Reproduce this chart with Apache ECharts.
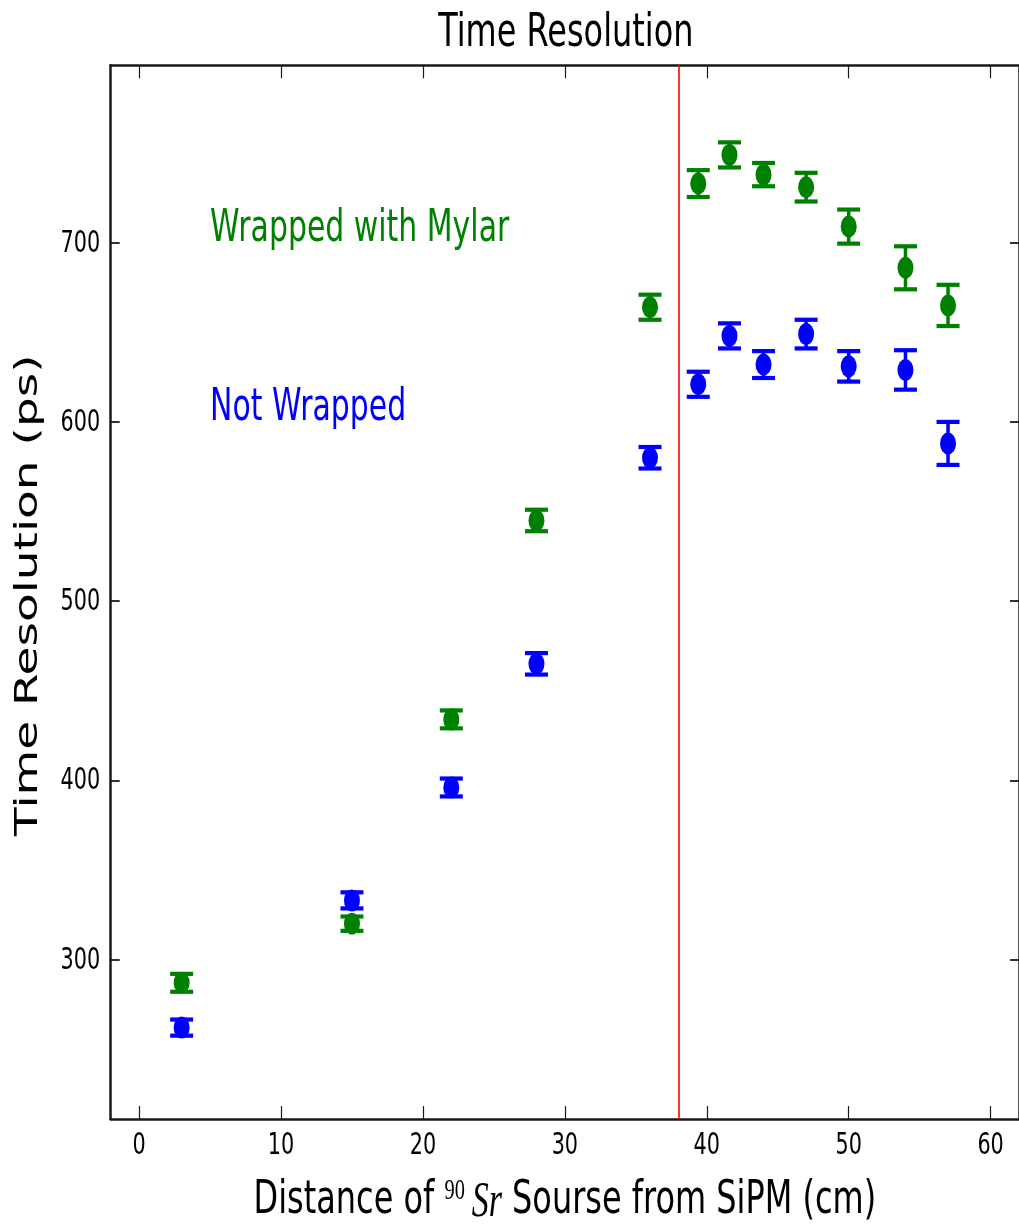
<!DOCTYPE html>
<html>
<head>
<meta charset="utf-8">
<title>Time Resolution</title>
<script src="https://cdn.jsdelivr.net/npm/echarts@6/dist/echarts.min.js"></script>
<style>
  html, body { margin: 0; padding: 0; background: #ffffff; }
  #chart { width: 1019px; height: 1225px; }
</style>
</head>
<body>
<div id="chart"></div>
<script>
// Source distance from the SiPM (cm)
const distanceCm = [3, 15, 22, 28, 36, 39.4, 41.6, 44, 47, 50, 54, 57];
// Time resolution (ps), bar wrapped with Mylar
const wrappedPs  = [287, 320, 434, 545, 664, 733, 749, 738, 731, 709, 686, 665];
const wrappedErr = [5, 4, 5, 6, 7, 7.5, 7, 6.5, 8, 9.5, 12, 11.5];
// Time resolution (ps), bare bar
const notWrappedPs  = [262, 333, 396, 465, 580, 621, 648, 632, 649, 631, 629, 588];
const notWrappedErr = [4.5, 4.5, 5, 6, 6, 7, 7, 7.5, 8, 8.5, 11, 12];

const xTicks = [0, 10, 20, 30, 40, 50, 60];
const yTicks = [300, 400, 500, 600, 700];
const xRange = [-2, 62];
const yRange = [211, 799];
const cutLineCm = 38;

const labelWrapped = { text: 'Wrapped with Mylar', x: 5, y: 700 };
const labelBare    = { text: 'Not Wrapped', x: 5, y: 600 };

const GREEN = '#008000';
const BLUE = '#0000ff';
const SANS = '"DejaVu Sans", "Liberation Sans", sans-serif';
const SERIF = '"Liberation Serif", "DejaVu Serif", serif';
const SQUEEZE = 0.68;   // lettering is set narrow

function points(xs, ys) { return xs.map((x, i) => [x, ys[i]]); }
function bars(xs, ys, es) { return xs.map((x, i) => [x, ys[i] - es[i], ys[i] + es[i]]); }

function errorBarSeries(name, data, color) {
  return {
    name: name,
    type: 'custom',
    data: data,
    encode: { x: 0, y: [1, 2] },
    z: 3,
    renderItem: function (params, api) {
      const x = api.value(0);
      const top = api.coord([x, api.value(2)]);
      const bot = api.coord([x, api.value(1)]);
      const hw = 11.5;
      return {
        type: 'group',
        children: [
          { type: 'line', shape: { x1: top[0], y1: top[1], x2: bot[0], y2: bot[1] },
            style: { stroke: color, lineWidth: 3.5 } },
          { type: 'line', shape: { x1: top[0] - hw, y1: top[1], x2: top[0] + hw, y2: top[1] },
            style: { stroke: color, lineWidth: 4.2 } },
          { type: 'line', shape: { x1: bot[0] - hw, y1: bot[1], x2: bot[0] + hw, y2: bot[1] },
            style: { stroke: color, lineWidth: 4.2 } }
        ]
      };
    }
  };
}

function markerSeries(name, data, color) {
  return {
    name: name,
    type: 'scatter',
    data: data,
    symbol: 'circle',
    symbolSize: [16, 22],
    itemStyle: { color: color, opacity: 1 },
    z: 4
  };
}

const spine = { show: true, onZero: false, lineStyle: { color: '#1a1a1a', width: 2.5 } };

function xAxisDef(pos) {
  return {
    type: 'value', position: pos, min: xRange[0], max: xRange[1],
    axisLine: spine,
    axisTick: { show: true, inside: true, length: 13, customValues: xTicks,
                lineStyle: { color: '#1a1a1a', width: 1.2 } },
    axisLabel: { show: false },
    splitLine: { show: false }
  };
}
function yAxisDef(pos) {
  return {
    type: 'value', position: pos, min: yRange[0], max: yRange[1],
    axisLine: spine,
    axisTick: { show: true, inside: true, length: 9, customValues: yTicks,
                lineStyle: { color: '#1a1a1a', width: 1.8 } },
    axisLabel: { show: false },
    splitLine: { show: false }
  };
}

const chart = echarts.init(document.getElementById('chart'), null, { renderer: 'canvas' });

chart.setOption({
  animation: false,
  backgroundColor: '#ffffff',
  grid: { left: 110.7, right: -3.8, top: 65.3, bottom: 106, containLabel: false },
  xAxis: [xAxisDef('bottom'), xAxisDef('top')],
  yAxis: [yAxisDef('left'), yAxisDef('right')],
  series: [
    {
      name: 'cut',
      type: 'line',
      data: [],
      markLine: {
        silent: true,
        symbol: 'none',
        label: { show: false },
        lineStyle: { color: '#ff0000', width: 1.6, type: 'solid' },
        data: [{ xAxis: cutLineCm }]
      },
      z: 2
    },
    errorBarSeries('Wrapped with Mylar err', bars(distanceCm, wrappedPs, wrappedErr), GREEN),
    markerSeries('Wrapped with Mylar', points(distanceCm, wrappedPs), GREEN),
    errorBarSeries('Not Wrapped err', bars(distanceCm, notWrappedPs, notWrappedErr), BLUE),
    markerSeries('Not Wrapped', points(distanceCm, notWrappedPs), BLUE)
  ]
});

// ---- lettering: narrow text placed with the chart's own coordinate conversion ----
const px = v => chart.convertToPixel({ xAxisIndex: 0 }, v);
const py = v => chart.convertToPixel({ yAxisIndex: 0 }, v);

const left = px(xRange[0]), right = px(xRange[1]);
const topY = py(yRange[1]), botY = py(yRange[0]);
const midX = (left + right) / 2;

const measureCtx = document.createElement('canvas').getContext('2d');
function textWidth(str, font) { measureCtx.font = font; return measureCtx.measureText(str).width; }

function label(text, x, y, size, opts) {
  opts = opts || {};
  const font = (opts.style || '') + ' ' + size + 'px ' + (opts.family || SANS);
  return {
    type: 'text', x: x, y: y,
    scaleX: opts.scaleX === undefined ? SQUEEZE : opts.scaleX,
    scaleY: opts.scaleY === undefined ? 1 : opts.scaleY,
    rotation: opts.rotation || 0,
    silent: true,
    style: {
      text: text, font: font.trim(), fill: opts.color || '#000000',
      align: opts.align || 'center', verticalAlign: 'middle',
      textAlign: opts.align || 'center', textVerticalAlign: 'middle'
    }
  };
}

const elements = [];

// title
elements.push(label('Time Resolution', midX + 1, 34, 47));

// tick labels
xTicks.forEach(v => elements.push(label(String(v), px(v), botY + 26.5, 31, { scaleX: 0.67 })));
yTicks.forEach(v => elements.push(label(String(v), left - 10.5, py(v) + 1, 31, { scaleX: 0.67, align: 'right' })));

// y axis title, reading upward
elements.push(label('Time Resolution (ps)', 29, (topY + botY) / 2 + 3, 47,
  { rotation: Math.PI / 2, scaleX: 1, scaleY: SQUEEZE }));

// x axis title with the isotope written as a superscript mass number and italic symbol
(function () {
  const fSans = '47px ' + SANS;
  const fSup = '30px ' + SERIF;
  const fIt = 'italic 50px ' + SERIF;
  const parts = [
    { t: 'Distance of ', f: fSans, dy: 0, gap: 0 },
    { t: '90', f: fSup, dy: -9, gap: 10 },
    { t: 'Sr', f: fIt, dy: 2, gap: 0 },
    { t: ' Sourse from SiPM (cm)', f: fSans, dy: 0, gap: 0 }
  ];
  let total = 0;
  parts.forEach(p => { p.w = textWidth(p.t, p.f); total += p.w + p.gap; });
  let cur = -total / 2;
  const kids = [];
  parts.forEach(p => {
    kids.push({
      type: 'text', x: cur, y: p.dy, silent: true,
      style: { text: p.t, font: p.f, fill: '#000000', align: 'left', verticalAlign: 'middle',
               textAlign: 'left', textVerticalAlign: 'middle' }
    });
    cur += p.w + p.gap;
  });
  elements.push({ type: 'group', x: midX, y: 1200.5, scaleX: SQUEEZE, children: kids, silent: true });
})();

// in-plot annotations, anchored at data coordinates (baseline at the point)
[[labelWrapped, GREEN], [labelBare, BLUE]].forEach(([a, c]) => {
  const p = chart.convertToPixel({ gridIndex: 0 }, [a.x, a.y]);
  elements.push(label(a.text, p[0], p[1] - 13, 44, { align: 'left', color: c }));
});

chart.setOption({ graphic: { elements: elements } });
</script>
</body>
</html>
